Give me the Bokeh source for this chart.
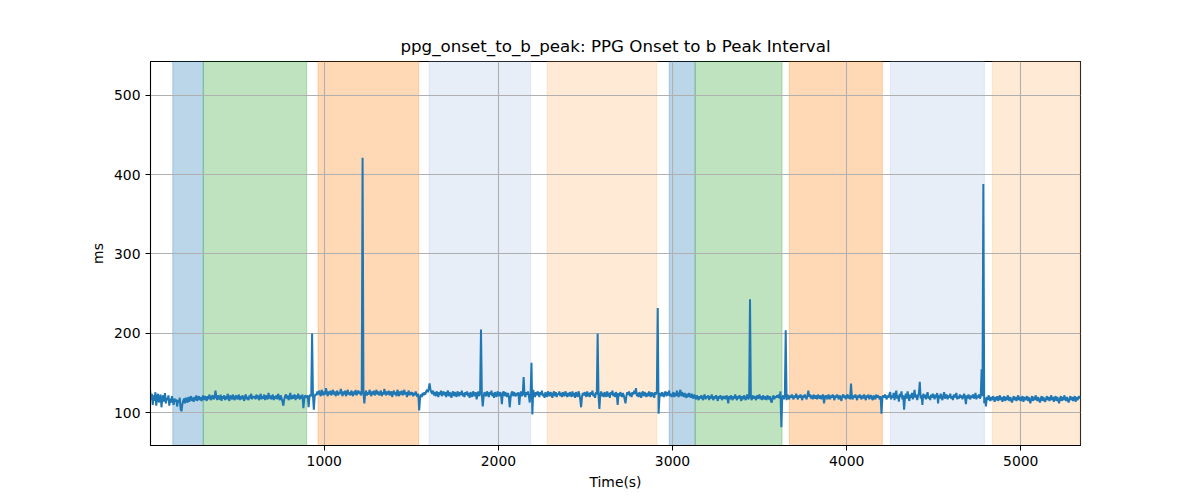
from bokeh.plotting import figure
from bokeh.models import BoxAnnotation, FixedTicker, Range1d, ColumnDataSource
from bokeh.embed import file_html
from bokeh.resources import INLINE

# ---- data ----
# one row per 300 s block, samples every 5 s
row_seconds = 300
sample_step_s = 5
onset_to_b_rows = [
    [128, 116, 124, 110, 122, 115, 126, 109, 120, 124, 113, 119, 123, 107, 118, 122, 114, 125, 112, 119,
     116, 122, 109, 118, 113, 121, 115, 110, 118, 114, 117, 108, 116, 113, 119, 105, 102, 111, 115, 118,
     112, 119, 115, 113, 120, 114, 118, 121, 115, 119, 114, 120, 116, 122, 115, 119, 121, 116, 120, 115],
    [118, 122, 116, 121, 119, 115, 121, 117, 123, 119, 116, 121, 122, 117, 119, 128, 121, 116, 122, 118,
     117, 123, 115, 121, 118, 122, 116, 121, 117, 124, 119, 115, 122, 120, 117, 123, 118, 116, 121, 122,
     117, 120, 123, 116, 121, 117, 122, 119, 115, 121, 123, 117, 120, 116, 122, 118, 124, 117, 121, 119],
    [121, 117, 123, 118, 122, 116, 120, 124, 117, 121, 118, 123, 116, 122, 119, 117, 125, 118, 122, 117,
     120, 123, 116, 121, 118, 122, 117, 124, 120, 116, 122, 118, 114, 109, 117, 121, 123, 118, 122, 116,
     120, 125, 117, 122, 118, 121, 123, 116, 122, 118, 124, 120, 117, 122, 118, 123, 106, 117, 122, 121],
    [119, 122, 107, 120, 123, 121, 200, 122, 104, 121, 124, 122, 127, 123, 128, 124, 121, 129, 125, 122,
     127, 123, 131, 125, 121, 127, 123, 128, 122, 125, 129, 123, 127, 121, 125, 128, 122, 126, 124, 130,
     125, 121, 127, 123, 128, 121, 125, 129, 123, 126, 122, 128, 125, 121, 127, 123, 129, 122, 125, 128],
    [124, 127, 122, 125, 421, 125, 112, 124, 128, 122, 126, 123, 129, 125, 121, 127, 123, 128, 122, 125,
     129, 123, 127, 122, 125, 128, 121, 126, 123, 130, 125, 122, 127, 123, 128, 122, 125, 127, 120, 125,
     128, 123, 126, 121, 129, 125, 121, 127, 123, 128, 122, 125, 129, 123, 126, 120, 125, 128, 122, 126],
    [123, 126, 121, 125, 122, 127, 123, 120, 124, 103, 118, 123, 120, 125, 122, 126, 123, 127, 129, 126,
     131, 137, 129, 126, 124, 128, 122, 126, 121, 127, 124, 120, 126, 123, 128, 121, 125, 127, 122, 126,
     120, 125, 128, 121, 126, 123, 119, 125, 127, 121, 126, 123, 120, 127, 124, 121, 126, 123, 128, 121],
    [125, 120, 126, 123, 127, 121, 125, 119, 126, 123, 120, 127, 124, 121, 126, 117, 123, 127, 121, 125,
     205, 123, 108, 120, 126, 123, 121, 127, 124, 120, 126, 123, 128, 121, 125, 119, 126, 123, 120, 127,
     124, 121, 126, 123, 111, 125, 127, 121, 126, 123, 120, 125, 121, 107, 119, 125, 127, 121, 126, 123],
    [121, 125, 122, 126, 110, 123, 127, 121, 124, 145, 123, 120, 126, 123, 127, 121, 113, 124, 163, 98,
     129, 123, 120, 126, 122, 127, 124, 120, 126, 123, 128, 121, 124, 119, 126, 123, 120, 127, 124, 121,
     126, 123, 119, 125, 127, 121, 126, 120, 124, 123, 127, 121, 125, 120, 126, 123, 121, 127, 124, 120],
    [125, 121, 126, 123, 120, 127, 121, 125, 119, 126, 123, 120, 127, 124, 117, 107, 120, 125, 122, 126,
     123, 120, 127, 121, 125, 120, 126, 123, 128, 121, 124, 119, 126, 123, 200, 122, 105, 123, 127, 121,
     125, 120, 126, 123, 120, 127, 121, 125, 119, 126, 123, 128, 121, 125, 120, 126, 123, 110, 125, 121],
    [126, 123, 120, 125, 122, 117, 112, 121, 126, 123, 127, 121, 125, 120, 126, 123, 128, 124, 131, 121,
     125, 120, 126, 123, 119, 125, 127, 121, 126, 123, 120, 125, 121, 127, 123, 120, 126, 121, 125, 119,
     126, 123, 127, 232, 99, 120, 125, 121, 126, 123, 120, 125, 127, 121, 126, 122, 128, 121, 124, 120],
    [123, 126, 120, 125, 121, 128, 123, 120, 125, 129, 121, 126, 123, 120, 125, 121, 119, 124, 120, 125,
     122, 119, 124, 120, 118, 123, 120, 117, 122, 119, 116, 121, 118, 122, 119, 116, 121, 123, 117, 121,
     119, 122, 116, 121, 118, 123, 119, 116, 121, 118, 122, 119, 115, 121, 118, 122, 119, 116, 121, 118],
    [121, 117, 122, 119, 112, 121, 117, 122, 119, 116, 121, 118, 123, 119, 116, 121, 118, 122, 119, 115,
     121, 117, 122, 119, 116, 121, 123, 117, 120, 243, 119, 116, 122, 118, 121, 119, 116, 122, 118, 121,
     123, 117, 121, 116, 122, 119, 117, 121, 116, 122, 119, 117, 121, 115, 113, 119, 122, 117, 121, 119],
    [122, 119, 123, 118, 127, 82, 119, 122, 117, 121, 204, 116, 123, 120, 117, 122, 119, 123, 120, 117,
     122, 119, 124, 120, 117, 122, 119, 123, 120, 116, 122, 119, 123, 120, 117, 122, 128, 120, 123, 118,
     122, 117, 123, 120, 118, 122, 117, 123, 120, 118, 122, 117, 121, 123, 112, 119, 122, 120, 117, 123],
    [121, 117, 122, 119, 123, 120, 116, 122, 119, 123, 120, 117, 122, 119, 115, 121, 123, 119, 122, 117,
     121, 123, 118, 122, 117, 137, 120, 117, 122, 119, 123, 120, 116, 122, 119, 123, 120, 117, 122, 118,
     123, 120, 116, 122, 119, 123, 117, 121, 122, 118, 116, 122, 120, 117, 123, 119, 122, 120, 117, 121],
    [99, 118, 122, 119, 123, 120, 117, 122, 119, 123, 126, 117, 122, 119, 125, 116, 123, 128, 118, 122,
     114, 124, 120, 127, 117, 122, 104, 119, 124, 118, 127, 120, 115, 123, 119, 125, 117, 122, 129, 119,
     123, 116, 121, 125, 139, 118, 122, 110, 124, 119, 123, 117, 122, 126, 118, 121, 116, 123, 119, 124],
    [121, 117, 123, 119, 125, 112, 122, 118, 124, 119, 116, 122, 126, 118, 121, 123, 117, 122, 119, 124,
     118, 121, 116, 123, 119, 122, 125, 117, 121, 118, 123, 119, 122, 117, 121, 124, 119, 111, 122, 118,
     123, 119, 117, 122, 119, 123, 118, 121, 125, 117, 122, 119, 123, 118, 121, 155, 121, 388, 112, 119],
    [108, 120, 116, 122, 118, 115, 120, 116, 121, 118, 114, 120, 116, 121, 115, 118, 122, 116, 120, 114,
     118, 121, 115, 120, 116, 122, 118, 115, 120, 116, 113, 118, 121, 116, 120, 115, 118, 122, 116, 120,
     115, 118, 121, 114, 120, 116, 118, 121, 115, 120, 116, 112, 118, 121, 115, 120, 116, 122, 118, 115],
    [120, 116, 113, 118, 121, 115, 120, 116, 114, 118, 121, 116, 120, 115, 118, 122, 116, 120, 114, 118,
     121, 115, 120, 116, 112, 118, 121, 115, 120, 116, 122, 118, 115, 120, 116, 113, 118, 121, 116, 120,
     115, 118, 121, 114, 120, 116, 118, 121, 118],
]

span_starts = [130, 305, 964, 1602, 2280, 2981, 3130, 3671, 4251, 4837]
span_ends = [305, 899, 1542, 2186, 2910, 3130, 3629, 4205, 4791, 5343]
span_colors = ["#1f77b4", "#2ca02c", "#ff7f0e", "#aec7e8", "#ffbb78",
               "#1f77b4", "#2ca02c", "#ff7f0e", "#aec7e8", "#ffbb78"]

x_ticks = [1000, 2000, 3000, 4000, 5000]
y_ticks = [100, 200, 300, 400, 500]

# build the series table
time_s, values_ms = [], []
for r, row in enumerate(onset_to_b_rows):
    for k, v in enumerate(row):
        time_s.append(r * row_seconds + k * sample_step_s)
        values_ms.append(v)

FONT = "DejaVu Sans"

p = figure(
    frame_width=930, frame_height=384,
    min_border_left=150, min_border_right=104, min_border_top=61, min_border_bottom=40,
    x_range=Range1d(2, 5343), y_range=Range1d(58.9, 542.3),
    output_backend="svg", toolbar_location=None,
    title="ppg_onset_to_b_peak: PPG Onset to b Peak Interval",
)

for s, e, c in zip(span_starts, span_ends, span_colors):
    p.add_layout(BoxAnnotation(left=s, right=e, fill_color=c, fill_alpha=0.3,
                               line_color=c, line_alpha=0.3, line_width=1, level="image"))

src = ColumnDataSource(dict(t=time_s, v=values_ms))
p.line("t", "v", source=src, line_color="#1f77b4", line_width=2)

p.title.align = "center"
p.title.text_font = FONT
p.title.text_font_size = "16.7px"
p.title.text_font_style = "normal"
p.title.text_color = "black"
p.title.standoff = 12

p.xaxis.ticker = FixedTicker(ticks=x_ticks)
p.yaxis.ticker = FixedTicker(ticks=y_ticks)
p.xaxis.axis_label = "Time(s)"
p.yaxis.axis_label = "ms"
for ax in (p.xaxis, p.yaxis):
    ax.axis_label_text_font = FONT
    ax.axis_label_text_font_size = "13.9px"
    ax.axis_label_text_font_style = "normal"
    ax.axis_label_text_color = "black"
    ax.major_label_text_font = FONT
    ax.major_label_text_font_size = "13.9px"
    ax.major_label_text_color = "black"
    ax.major_tick_out = 5
    ax.major_tick_in = 0
    ax.minor_tick_out = 0
    ax.minor_tick_in = 0
    ax.axis_line_color = "black"
    ax.major_tick_line_color = "black"
    ax.axis_label_standoff = 5
    ax.major_label_standoff = 5

p.grid.grid_line_color = "#b0b0b0"
p.grid.grid_line_width = 1.1
p.outline_line_color = "black"
p.outline_line_width = 1.1
p.outline_line_alpha = 1.0

open("out.html", "w").write(file_html(p, INLINE))
